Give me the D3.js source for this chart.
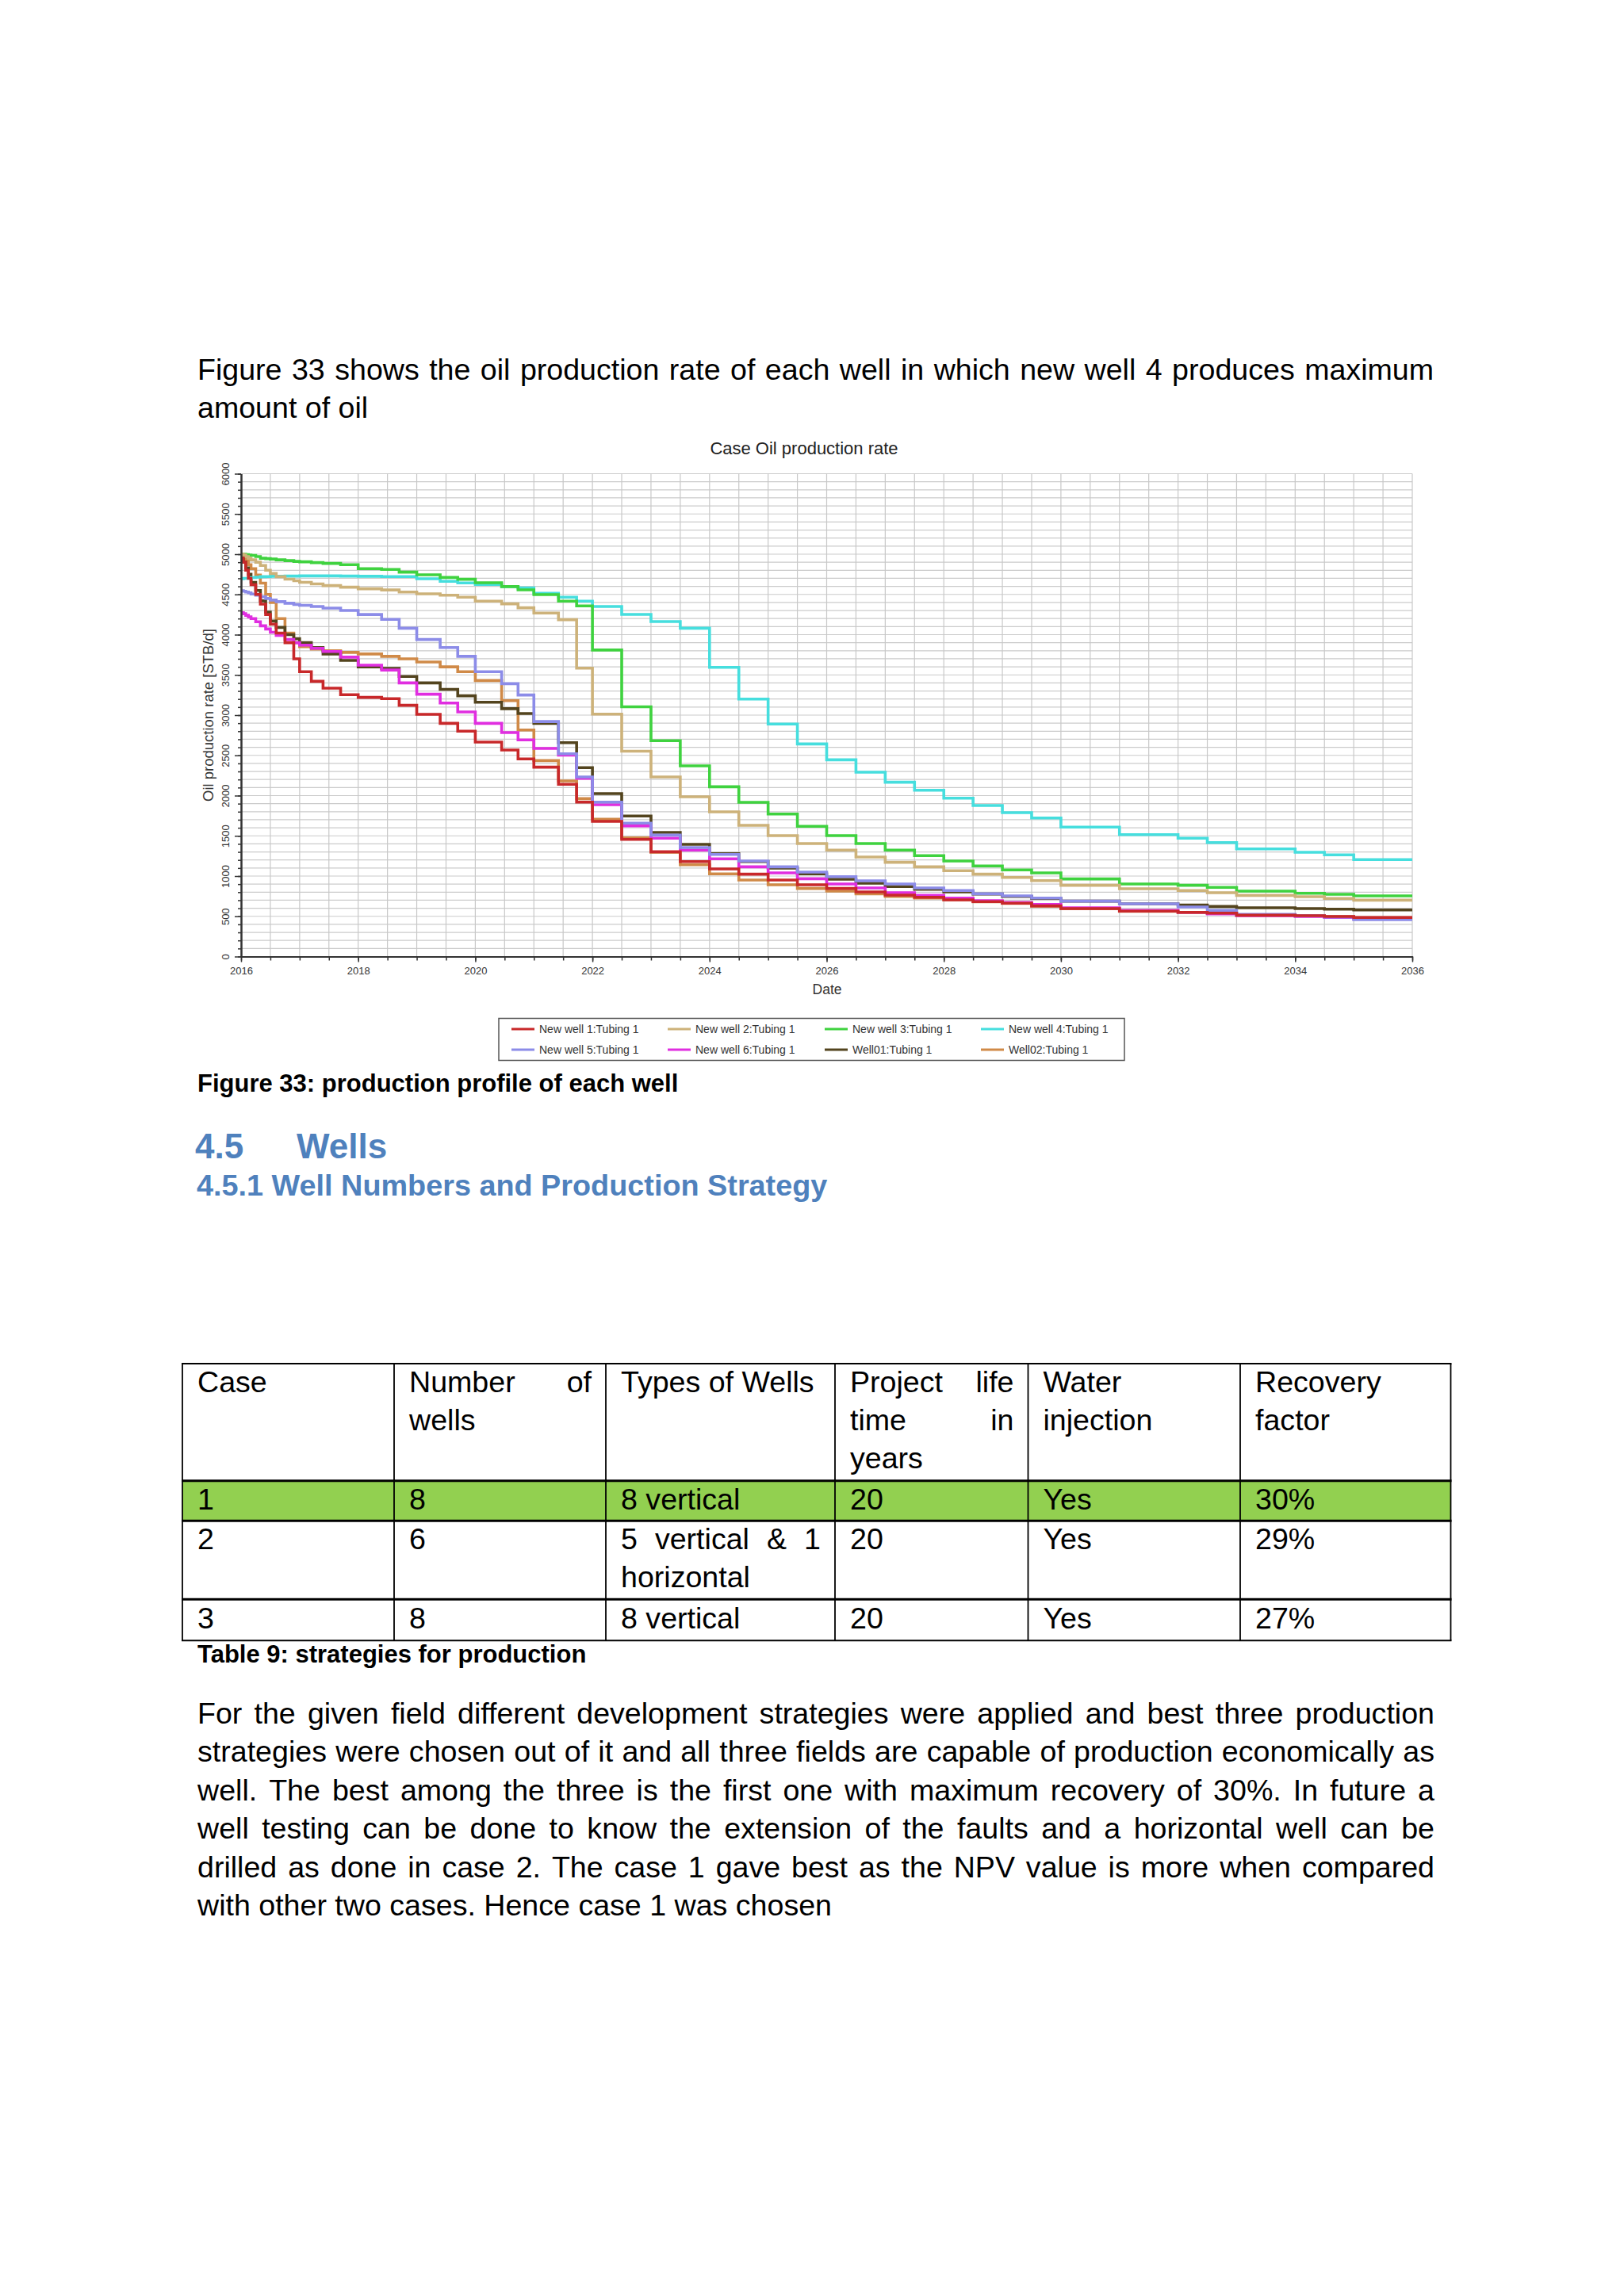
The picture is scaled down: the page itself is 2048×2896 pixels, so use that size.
<!DOCTYPE html>
<html><head><meta charset="utf-8">
<script src="https://cdn.jsdelivr.net/npm/d3@7"></script>
<style>
html,body{margin:0;padding:0;background:#fff;}
svg{display:block;}
text{font-family:"Liberation Sans", Arial, Helvetica, sans-serif;}
</style></head><body>
<svg id="page" width="2048" height="2896"></svg>
<script>
// ---------------- DATA ----------------
const dates = [2016.0, 2016.04, 2016.08, 2016.125, 2016.17, 2016.25, 2016.33, 2016.42, 2016.5, 2016.6,
  2016.75, 2016.9, 2017.0, 2017.2, 2017.4, 2017.7, 2018.0, 2018.4, 2018.7,
  2019.0, 2019.4, 2019.7, 2020.0, 2020.45, 2020.73, 2021.0, 2021.42, 2021.73,
  2022.0, 2022.5, 2023.0, 2023.5, 2024.0, 2024.5, 2025.0, 2025.5, 2026.0, 2026.5,
  2027.0, 2027.5, 2028.0, 2028.5, 2029.0, 2029.5, 2030.0, 2030.5, 2031.0, 2031.5,
  2032.0, 2032.5, 2033.0, 2033.5, 2034.0, 2034.5, 2035.0, 2035.5, 2036.0];

const newWell1 = [4950,4900,4800,4700,4620,4500,4380,4250,4130,4020,3900,3700,3540,3420,3335,3253,3220,3204,3122,
  3010,2898,2800,2665,2567,2455,2353,2140,1919,
  1680,1456,1302,1180,1089,1023,951,892,846,803,764,737,704,682,662,629,596,596,564,564,550,540,514,514,507,498,485,485,485];
const newWell2 = [5000,4990,4970,4950,4930,4900,4860,4800,4760,4720,4690,4670,4650,4630,4610,4590,4570,4555,4530,
  4508,4490,4466,4416,4383,4334,4268,4186,3584,
  3012,2551,2231,1985,1798,1630,1502,1404,1322,1236,1171,1115,1066,1023,983,944,885,885,842,842,820,793,760,760,744,721,701,701,701];
const newWell3 = [5000,5000,4995,4990,4985,4970,4950,4945,4940,4930,4920,4910,4905,4895,4885,4870,4820,4810,4777,
  4744,4711,4688,4646,4597,4557,4498,4416,4357,
  3809,3103,2682,2370,2110,1916,1771,1618,1502,1404,1322,1253,1187,1125,1076,1039,964,964,901,901,885,859,813,813,786,773,754,754,754];
const newWell4 = [4695,4700,4700,4705,4710,4715,4720,4722,4725,4725,4728,4728,4730,4730,4730,4728,4725,4722,4722,
  4695,4662,4643,4623,4597,4580,4515,4465,4416,
  4350,4251,4162,4080,3594,3200,2889,2642,2445,2291,2166,2067,1968,1877,1788,1722,1608,1608,1515,1515,1470,1417,1338,1338,1296,1263,1204,1204,1204];
const newWell5 = [4547,4540,4530,4520,4505,4490,4470,4450,4430,4410,4390,4375,4365,4350,4330,4300,4250,4190,4080,
  3940,3840,3730,3540,3390,3250,2920,2520,2232,
  1919,1657,1509,1355,1269,1187,1115,1049,993,941,901,852,820,780,754,727,688,688,655,655,616,573,524,524,507,491,458,458,458];
const newWell6 = [4274,4260,4240,4220,4200,4160,4110,4070,4030,3990,3940,3900,3870,3830,3790,3720,3620,3560,3400,
  3260,3150,3040,2898,2783,2692,2586,2504,2215,
  1887,1624,1470,1322,1214,1115,1039,967,901,852,793,760,727,694,672,648,606,606,573,573,550,530,507,507,498,485,465,465,465];
const well01 = [4950,4900,4830,4750,4650,4550,4420,4280,4170,4090,4000,3950,3900,3840,3760,3680,3600,3580,3480,
  3400,3320,3240,3160,3080,3020,2898,2658,2347,
  2025,1746,1542,1394,1279,1180,1098,1027,961,911,869,836,803,777,747,721,688,688,655,655,639,622,606,606,596,589,579,579,579];
const well02 = [5000,4960,4920,4870,4820,4740,4640,4500,4400,4200,4020,3900,3850,3820,3800,3780,3760,3730,3700,
  3660,3600,3540,3430,3180,2816,2435,2182,1962,
  1706,1476,1296,1141,1027,951,892,846,813,780,747,727,704,680,660,625,594,594,562,562,548,538,512,512,505,496,483,483,483];

const seriesNames = ["New well 1:Tubing 1","New well 2:Tubing 1","New well 3:Tubing 1","New well 4:Tubing 1",
  "New well 5:Tubing 1","New well 6:Tubing 1","Well01:Tubing 1","Well02:Tubing 1"];
const seriesValues = [newWell1,newWell2,newWell3,newWell4,newWell5,newWell6,well01,well02];
const seriesColors = ["#c8282a","#cdb27a","#3fd23f","#46dede","#8c8ce8","#e02ee0","#53441e","#d08a48"];

const xTickYears = [2016,2018,2020,2022,2024,2026,2028,2030,2032,2034,2036];
const yTickValues = [0,500,1000,1500,2000,2500,3000,3500,4000,4500,5000,5500,6000];

const chartTitle = "Case Oil production rate";
const yAxisTitle = "Oil production rate [STB/d]";
const xAxisTitle = "Date";

const introLines = ["Figure 33 shows the oil production rate of each well in which new well 4 produces maximum","amount of oil"];
const figCaption = "Figure 33: production profile of each well";
const heading1Num = "4.5", heading1Text = "Wells";
const heading2 = "4.5.1 Well Numbers and Production Strategy";
const tableHeader = [["Case"],["Number of","wells"],["Types of Wells"],["Project life","time in","years"],["Water","injection"],["Recovery","factor"]];
const tableRows = [
  [["1"],["8"],["8 vertical"],["20"],["Yes"],["30%"]],
  [["2"],["6"],["5 vertical & 1","horizontal"],["20"],["Yes"],["29%"]],
  [["3"],["8"],["8 vertical"],["20"],["Yes"],["27%"]]
];
const tableCaption = "Table 9: strategies for production";
const paraLines = [
  "For the given field different development strategies were applied and best three production",
  "strategies were chosen out of it and all three fields are capable of production economically as",
  "well. The best among the three is the first one with maximum recovery of 30%. In future a",
  "well testing can be done to know the extension of the faults and a horizontal well can be",
  "drilled as done in case 2. The case 1 gave best as the NPV value is more when compared",
  "with other two cases. Hence case 1 was chosen"
];

// ---------------- DRAW ----------------
const svg = d3.select("#page");
svg.append("rect").attr("width",2048).attr("height",2896).attr("fill","#fff");

const BODY = 37.6;
function plain(g, str, x0, yb, size, weight, fill){
  return g.append("text").attr("x",x0).attr("y",yb).attr("font-size",size)
    .attr("font-weight",weight||"normal").attr("fill",fill||"#000").text(str);
}
function justLine(g, str, x0, x1, yb, size, weight, fill){
  const words = str.split(" ");
  const grp = g.append("g");
  const nodes = words.map(w => grp.append("text").attr("y",yb).attr("font-size",size)
    .attr("font-weight",weight||"normal").attr("fill",fill||"#000").text(w));
  const widths = nodes.map(n => n.node().getComputedTextLength());
  const gap = words.length>1 ? (x1-x0-d3.sum(widths))/(words.length-1) : 0;
  let cx = x0;
  nodes.forEach((n,i)=>{ n.attr("x",cx); cx += widths[i]+gap; });
}

const page = svg.append("g");
// intro text
justLine(page, introLines[0], 249, 1808, 479, BODY);
plain(page, introLines[1], 249, 527, BODY);

// ---------------- CHART ----------------
const x = d3.scaleLinear().domain([2016,2036]).range([304,1781]);
const y = d3.scaleLinear().domain([0,6000]).range([1206.5,597.5]);
const chart = svg.append("g");

chart.append("text").attr("x",1014).attr("y",573).attr("text-anchor","middle")
  .attr("font-size",22).attr("fill","#222").text(chartTitle);

// grid
chart.append("g").selectAll("line").data(d3.range(100,6001,100)).join("line")
  .attr("x1",x(2016)).attr("x2",x(2036)).attr("y1",d=>y(d)).attr("y2",d=>y(d))
  .attr("stroke","#cbcbcb").attr("stroke-width",1.2);
chart.append("g").selectAll("line").data(d3.range(2016.5,2036.01,0.5)).join("line")
  .attr("x1",d=>x(d)).attr("x2",d=>x(d)).attr("y1",y(0)).attr("y2",y(6000))
  .attr("stroke","#c8c8c8").attr("stroke-width",1.2);

// series
const line = d3.line().x(d=>x(d[0])).y(d=>y(d[1])).curve(d3.curveStepAfter);
const order = [7,6,5,4,3,2,1,0];
chart.append("g").selectAll("path").data(order).join("path")
  .attr("d", i => line(dates.map((t,k)=>[t, seriesValues[i][k]])))
  .attr("fill","none").attr("stroke", i=>seriesColors[i]).attr("stroke-width",3.6)
  .attr("stroke-linejoin","miter");

// axes
const axStyle = g => { g.selectAll("path.domain").attr("stroke","#333").attr("stroke-width",2);
  g.selectAll(".tick line").attr("stroke","#333").attr("stroke-width",1.5);
  g.selectAll("text").attr("font-family","'Liberation Sans', Arial, sans-serif").attr("font-size",13).attr("fill","#333"); };

chart.append("g").attr("transform",`translate(0,${y(0)})`)
  .call(d3.axisBottom(x).tickValues(d3.range(2016,2036.01,0.5)).tickFormat("").tickSize(5).tickSizeOuter(0))
  .call(axStyle);
const xa = chart.append("g").attr("transform",`translate(0,${y(0)})`)
  .call(d3.axisBottom(x).tickValues(xTickYears).tickFormat(d3.format("d")).tickSize(7).tickSizeOuter(0).tickPadding(6))
  .call(axStyle);
xa.selectAll("text").attr("dy","0").attr("y",18).attr("dominant-baseline","central");

chart.append("g").attr("transform",`translate(${x(2016)},0)`)
  .call(d3.axisLeft(y).tickValues(d3.range(0,6001,100)).tickFormat("").tickSize(4).tickSizeOuter(0))
  .call(axStyle);
const ya = chart.append("g").attr("transform",`translate(${x(2016)},0)`)
  .call(d3.axisLeft(y).tickValues(yTickValues).tickFormat(d3.format("d")).tickSize(8).tickSizeOuter(0))
  .call(axStyle);
ya.selectAll("text").attr("transform","rotate(-90)").attr("x",0).attr("y",-20).attr("dy","0")
  .attr("text-anchor","middle").attr("dominant-baseline","central");

chart.append("text").attr("transform","translate(262,902) rotate(-90)").attr("text-anchor","middle")
  .attr("dominant-baseline","central").attr("font-size",18.5).attr("fill","#333").text(yAxisTitle);
chart.append("text").attr("x",1043).attr("y",1248).attr("text-anchor","middle")
  .attr("dominant-baseline","central").attr("font-size",17.5).attr("fill","#333").text(xAxisTitle);

// legend
const lg = chart.append("g");
lg.append("rect").attr("x",629).attr("y",1284.5).attr("width",789).attr("height",53)
  .attr("fill","#fff").attr("stroke","#555").attr("stroke-width",1.5);
const legX = [645,842,1040,1237], legY = [1298,1324];
seriesNames.forEach((n,i)=>{
  const cx = legX[i%4], cy = legY[Math.floor(i/4)];
  lg.append("line").attr("x1",cx).attr("x2",cx+29).attr("y1",cy).attr("y2",cy)
    .attr("stroke",seriesColors[i]).attr("stroke-width",3);
  lg.append("text").attr("x",cx+35).attr("y",cy).attr("dominant-baseline","central")
    .attr("font-size",14).attr("fill","#333").text(n);
});

// ---------------- TEXT AFTER CHART ----------------
plain(page, figCaption, 249, 1377, 31, "bold");
plain(page, heading1Num, 246, 1461, 44, "bold", "#4f81bd");
plain(page, heading1Text, 374, 1461, 44, "bold", "#4f81bd");
plain(page, heading2, 248, 1508, 37.8, "bold", "#4f81bd");

// table
const colX = [230,497,764,1053,1296.5,1564,1829.5];
const rowY = [1720,1867.7,1918.3,2017.3,2069.3];
const tbl = svg.append("g");
tbl.append("rect").attr("x",colX[0]).attr("y",rowY[1]).attr("width",colX[6]-colX[0])
  .attr("height",rowY[2]-rowY[1]).attr("fill","#92d050");
const lineBase = [1756,1904,1954,2054];
const allRows = [tableHeader].concat(tableRows);
allRows.forEach((row,r)=>{
  row.forEach((cell,c)=>{
    const x0 = colX[c]+19, x1 = colX[c+1]-18;
    cell.forEach((ln,k)=>{
      const yb = lineBase[r]+k*48;
      const isJust = (k < cell.length-1) && ln.indexOf(" ")>0;
      if (isJust) justLine(tbl, ln, x0, x1, yb, BODY);
      else plain(tbl, ln, x0, yb, BODY);
    });
  });
});
rowY.forEach((yy,i)=>{
  tbl.append("line").attr("x1",colX[0]-1).attr("x2",colX[6]+1).attr("y1",yy).attr("y2",yy)
    .attr("stroke","#000").attr("stroke-width",(i===0||i===rowY.length-1)?2:3);
});
colX.forEach(xx=>{
  tbl.append("line").attr("x1",xx).attr("x2",xx).attr("y1",rowY[0]).attr("y2",rowY[4])
    .attr("stroke","#000").attr("stroke-width",1.8);
});
plain(page, tableCaption, 249, 2097, 31, "bold");

// paragraph
paraLines.forEach((ln,i)=>{
  const yb = 2174 + i*48.4;
  if (i < paraLines.length-1) justLine(page, ln, 249, 1809, yb, BODY);
  else plain(page, ln, 249, yb, BODY);
});
</script>
</body></html>
